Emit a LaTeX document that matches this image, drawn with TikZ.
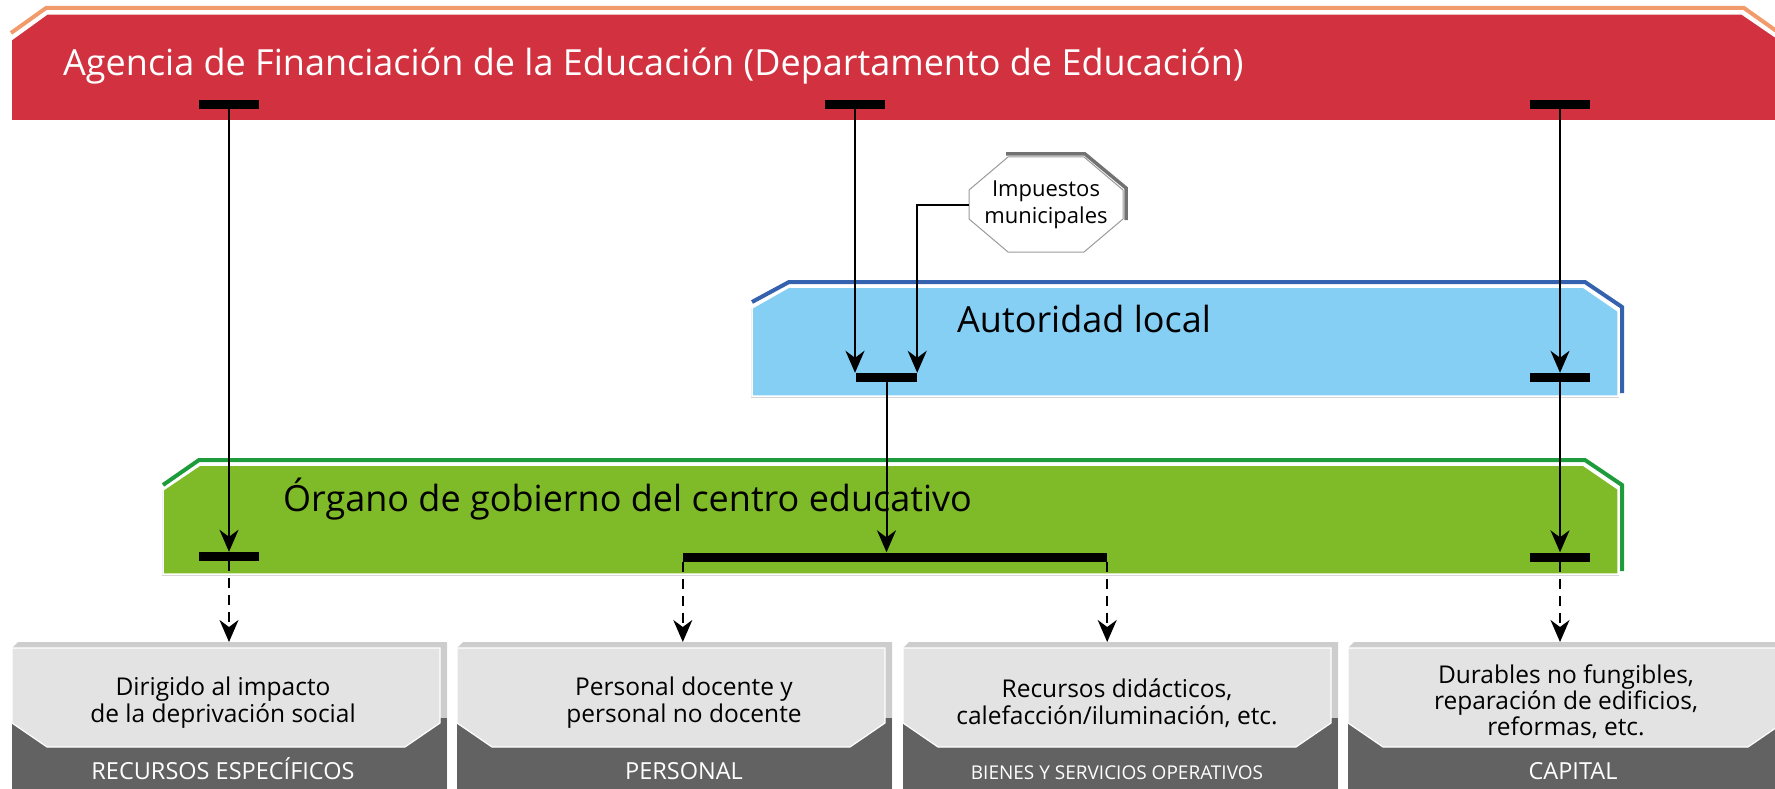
\documentclass[tikz,border=0pt]{standalone}
\usepackage{fontspec}
\setmainfont{Open Sans}
\usetikzlibrary{arrows.meta}
\definecolor{redbg}{HTML}{D2323F}
\definecolor{orangeln}{HTML}{F19A6C}
\definecolor{bluebg}{HTML}{85CFF5}
\definecolor{blueln}{HTML}{3562AF}
\definecolor{greenbg}{HTML}{7FBA29}
\definecolor{greenln}{HTML}{1E9B3B}
\definecolor{panel}{HTML}{E3E3E3}
\definecolor{frame}{HTML}{CDCDCD}
\definecolor{darkpanel}{HTML}{626262}
\definecolor{octborder}{HTML}{9A9A9A}
\definecolor{octshadow}{HTML}{727272}
\definecolor{edgegray}{HTML}{D6D6D6}
\tikzset{
  bar/.style={fill=black, draw=none, minimum width=60pt, minimum height=9pt, inner sep=0pt},
  conn/.style={line width=2pt, -{Stealth[length=22pt,width=19pt,inset=7pt]}},
  dconn/.style={conn, dash pattern=on 10pt off 7pt},
  titletext/.style={font=\fontsize{36}{42}\selectfont, inner sep=0pt, anchor=base west},
  boxtext/.style={font=\fontsize{24.5}{27}\selectfont, align=center, inner sep=0pt},
  labeltext/.style={font=\fontsize{23.5}{26}\selectfont, text=white, inner sep=0pt, anchor=base},
  catarea/.style={inner sep=0pt, minimum height=147pt, anchor=north west, draw=none}
}
\newcommand\drawcatbox[3]{%
  \fill[frame] (#2,648) -- (#2+6,642) -- (#3,642) -- (#3,789) -- (#2,789) -- cycle;
  \fill[darkpanel] (#2,718) rectangle (#3,789);
  \filldraw[fill=panel, draw=white, line width=1.2pt] (#2,648) -- (#3-7,648) -- (#3-7,723) -- (#3-42,747) -- (#2+35,747) -- (#2,723) -- cycle;
  \node[catarea, minimum width={#3-#2}] (#1) at (#2,642) {};
}
\begin{document}
\begin{tikzpicture}[x=1pt,y=-1pt]
\useasboundingbox (0,0) rectangle (1775,789);
% ---- red banner
\draw[orangeln, line width=4pt, line join=miter] (11,33) -- (46,8) -- (1744,8) -- (1782,35);
\filldraw[fill=redbg, draw=white, line width=1.5pt] (11,40) -- (47,14) -- (1742,14) -- (1780,40) -- (1780,121) -- (11,121) -- cycle;
\node[titletext, text=white] (agencia) at (63,76) {Agencia de Financiación de la Educación (Departamento de Educación)};
% ---- octagon
\draw[octshadow, line width=3.5pt, line join=miter] (1006,154) -- (1085,154) -- (1126,188) -- (1126,220);
\filldraw[fill=white, draw=octborder, line width=1pt] (1008,157) -- (1084,157) -- (1123,190) -- (1123,219) -- (1084,252) -- (1008,252) -- (969,219) -- (969,190) -- cycle;
\node[font=\fontsize{22}{27}\selectfont, align=center, inner sep=0pt, minimum width=154pt, minimum height=95pt] (oct) at (1046,204.5) {Impuestos\\municipales};
% ---- blue box
\draw[blueln, line width=4pt, line join=miter] (752,302) -- (789,282) -- (1585,282) -- (1622,307) -- (1622,393);
\draw[edgegray, line width=1pt] (751,308) -- (751,397) -- (1619,397);
\filldraw[fill=bluebg, draw=white, line width=1.5pt] (752,308) -- (789,287) -- (1583,287) -- (1618,311) -- (1618,396) -- (752,396) -- cycle;
\node[titletext] (autoridad) at (957,332) {Autoridad local};
% ---- green box
\draw[greenln, line width=4pt, line join=miter] (163,485) -- (199,460) -- (1585,460) -- (1622,485) -- (1622,571);
\draw[edgegray, line width=1pt] (162,490) -- (162,575) -- (1619,575);
\filldraw[fill=greenbg, draw=white, line width=1.5pt] (163,490) -- (200,465) -- (1583,465) -- (1618,489) -- (1618,574) -- (163,574) -- cycle;
\node[titletext] (organo) at (283,511) {Órgano de gobierno del centro educativo};
% ---- bottom boxes
\drawcatbox{box1}{12}{447}
\drawcatbox{box2}{457}{892}
\drawcatbox{box3}{903}{1338}
\drawcatbox{box4}{1348}{1790}
\node[boxtext] (t1) at (223,703) {Dirigido al impacto\\de la deprivación social};
\node[labeltext] (l1) at (223,779) {RECURSOS ESPECÍFICOS};
\node[boxtext] (t2) at (684,703) {Personal docente y\\personal no docente};
\node[labeltext] (l2) at (684,779) {PERSONAL};
\node[boxtext] (t3) at (1117,703) {Recursos didácticos,\\calefacción/iluminación, etc.};
\node[labeltext, font=\fontsize{19}{24}\selectfont] (l3) at (1117,779) {BIENES Y SERVICIOS OPERATIVOS};
\node[boxtext, font=\fontsize{24.5}{26}\selectfont] (t4) at (1566,702) {Durables no fungibles,\\reparación de edificios,\\reformas, etc.};
\node[labeltext] (l4) at (1573,779) {CAPITAL};
% ---- bars
\node[bar] (b1) at (229,104.5) {};
\node[bar] (b2) at (855,104.5) {};
\node[bar] (b3) at (1560,104.5) {};
\node[bar, minimum width=61pt] (a1) at (886.5,377.5) {};
\node[bar] (a2) at (1560,377.5) {};
\node[bar] (g1) at (229,556.5) {};
\node[bar, minimum width=424pt] (g2) at (895,557) {};
\node[bar] (g3) at (1560,557) {};
% ---- connectors
\draw[conn] (b1.south) -- (g1.north);
\draw[conn] (b2.south) -- (b2.south |- a1.north);
\draw[conn] (oct.west) -| (a1.north east);
\draw[conn] (a1.south) -- (a1.south |- g2.north);
\draw[conn] (b3.south) -- (a2.north);
\draw[conn] (a2.south) -- (g3.north);
\draw[dconn] (g1.south) -- (g1.south |- box1.north);
\draw[dconn] (g2.south west) -- (g2.south west |- box2.north);
\draw[dconn] (g2.south east) -- (g2.south east |- box3.north);
\draw[dconn] (g3.south) -- (g3.south |- box4.north);
\end{tikzpicture}
\end{document}
